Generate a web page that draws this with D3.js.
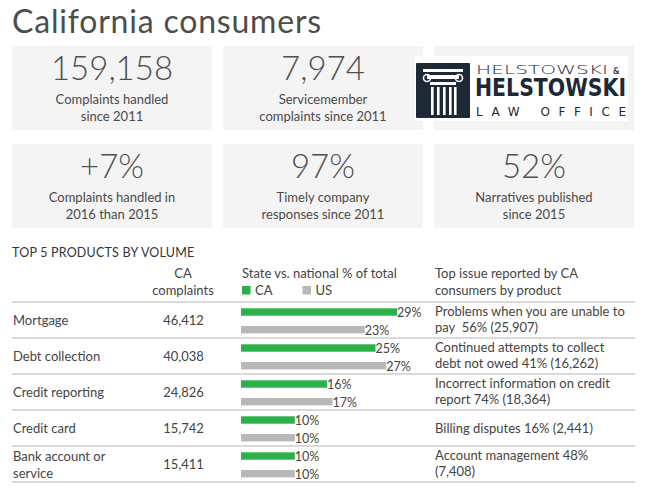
<!DOCTYPE html>
<html><head><meta charset="utf-8">
<script src="https://cdn.jsdelivr.net/npm/d3@7"></script>
<style>
html,body{margin:0;padding:0;background:#fff;}
svg{display:block;font-family:Lato,"Open Sans",sans-serif;}
</style></head>
<body>
<script>
const title = "California consumers";
const statValues = ["159,158", "7,974", null, "+7%", "97%", "52%"];
const statLabels = [
  ["Complaints handled", "since 2011"],
  ["Servicemember", "complaints since 2011"],
  null,
  ["Complaints handled in", "2016 than 2015"],
  ["Timely company", "responses since 2011"],
  ["Narratives published", "since 2015"]
];
const sectionTitle = "TOP 5 PRODUCTS BY VOLUME";
const products = [["Mortgage"], ["Debt collection"], ["Credit reporting"], ["Credit card"], ["Bank account or", "service"]];
const caComplaints = ["46,412", "40,038", "24,826", "15,742", "15,411"];
const caShare = [29, 25, 16, 10, 10];
const usShare = [23, 27, 17, 10, 10];
const topIssues = [
  ["Problems when you are unable to", "pay  56% (25,907)"],
  ["Continued attempts to collect", "debt not owed 41% (16,262)"],
  ["Incorrect information on credit", "report 74% (18,364)"],
  ["Billing disputes 16% (2,441)"],
  ["Account management 48%", "(7,408)"]
];
const seriesNames = ["CA", "US"];
const colors = {CA: "#2cb04a", US: "#b8b8b8"};

const W = 649, H = 497;
const svg = d3.select("body").append("svg").attr("width", W).attr("height", H);

svg.append("text").attr("x", 12).attr("y", 33).attr("font-size", 32)
  .attr("letter-spacing", 0.8)
  .attr("fill", "#4d4d4d").attr("font-weight", 400).text(title);

// stat boxes
const boxX = d3.scaleBand().domain([0,1,2]).range([12, 634]).paddingInner(0.052).paddingOuter(0);
const boxY = [46, 144];
statValues.forEach((v, i) => {
  const col = i % 3, row = Math.floor(i / 3);
  const x = boxX(col), y = boxY[row], w = boxX.bandwidth();
  svg.append("rect").attr("x", x).attr("y", y).attr("width", w).attr("height", 84).attr("fill", "#f4f4f4");
  if (v !== null) {
    svg.append("text").attr("x", x + w/2).attr("y", y + 34).attr("text-anchor", "middle")
      .attr("font-size", 33).attr("font-weight", 300).attr("fill", "#505050").text(v);
    statLabels[i].forEach((l, k) => {
      svg.append("text").attr("x", x + w/2).attr("y", y + 58 + k*17).attr("text-anchor", "middle")
        .attr("font-size", 13).attr("fill", "#4a4a4a").text(l);
    });
  } else {
    // logo
    const g = svg.append("g");
    const dark = "#1d2935";
    g.append("rect").attr("x", 415).attr("y", 56).attr("width", 213).attr("height", 65).attr("fill", "#fff");
    g.append("rect").attr("x", 416).attr("y", 63).attr("width", 54).attr("height", 55).attr("fill", dark).attr("rx", 1);
    // column icon
    g.append("rect").attr("x", 423).attr("y", 69).attr("width", 40).attr("height", 3).attr("fill", "#fff");
    g.append("rect").attr("x", 427).attr("y", 75).attr("width", 32).attr("height", 4).attr("fill", "#fff");
    g.append("circle").attr("cx", 427).attr("cy", 78).attr("r", 3.5).attr("fill", "none").attr("stroke", "#fff").attr("stroke-width", 1.6);
    g.append("circle").attr("cx", 459).attr("cy", 78).attr("r", 3.5).attr("fill", "none").attr("stroke", "#fff").attr("stroke-width", 1.6);
    g.append("rect").attr("x", 430).attr("y", 82).attr("width", 26).attr("height", 3).attr("fill", "#fff");
    const flutes = [431, 437, 443, 449, 454];
    flutes.forEach(fx => {
      g.append("rect").attr("x", fx).attr("y", 87).attr("width", 2.6).attr("height", 28).attr("fill", "#fff");
    });
    g.append("text").attr("x", 476).attr("y", 73.5).attr("font-size", 13).attr("font-weight", 300)
      .attr("fill", dark).attr("textLength", 132).attr("lengthAdjust", "spacingAndGlyphs")
      .attr("font-family", "'DejaVu Sans', sans-serif").text("HELSTOWSKI");
    g.append("text").attr("x", 613).attr("y", 73.5).attr("font-size", 9).attr("font-weight", 700)
      .attr("fill", dark).text("&");
    g.append("text").attr("x", 475).attr("y", 96).attr("font-size", 24).attr("font-weight", 700)
      .attr("fill", dark).attr("textLength", 151).attr("lengthAdjust", "spacingAndGlyphs")
      .attr("font-family", "'DejaVu Sans Condensed','Liberation Sans Narrow',sans-serif").text("HELSTOWSKI");
    g.append("text").attr("x", 476).attr("y", 116).attr("font-size", 12).attr("font-weight", 400)
      .attr("fill", dark).attr("textLength", 150).attr("lengthAdjust", "spacing")
      .attr("font-family", "'DejaVu Sans', sans-serif").text("LAW OFFICE");
  }
});

// table
const txt = "#444";
svg.append("text").attr("x", 12).attr("y", 257).attr("font-size", 12.5).attr("letter-spacing", 0.2).attr("fill", "#333").text(sectionTitle);

svg.append("text").attr("x", 183).attr("y", 278).attr("text-anchor", "middle").attr("font-size", 13).attr("fill", txt).text("CA");
svg.append("text").attr("x", 183).attr("y", 295).attr("text-anchor", "middle").attr("font-size", 13).attr("fill", txt).text("complaints");
svg.append("text").attr("x", 242).attr("y", 278).attr("font-size", 13).attr("fill", txt).text("State vs. national % of total");
const legX = d3.scaleOrdinal().domain(seriesNames).range([242, 302.5]);
seriesNames.forEach(s => {
  svg.append("rect").attr("x", legX(s)).attr("y", 286).attr("width", 8.5).attr("height", 8.5).attr("fill", colors[s]);
  svg.append("text").attr("x", legX(s) + 13).attr("y", 295).attr("font-size", 13).attr("fill", txt).text(s);
});
svg.append("text").attr("x", 435).attr("y", 278).attr("font-size", 13).attr("fill", txt).text("Top issue reported by CA");
svg.append("text").attr("x", 435).attr("y", 295).attr("font-size", 13).attr("fill", txt).text("consumers by product");

const rowY = d3.scaleBand().domain(d3.range(products.length)).range([302, 482]).padding(0);
const xBar = d3.scaleLinear().domain([0, 100]).range([241, 241 + 538]);

svg.append("line").attr("x1", 12).attr("x2", 635).attr("y1", 302).attr("y2", 302).attr("stroke", "#b5b5b5").attr("stroke-width", 1);

products.forEach((p, i) => {
  const y0 = rowY(i);
  svg.append("line").attr("x1", 12).attr("x2", 635).attr("y1", y0 + 36).attr("y2", y0 + 36)
    .attr("stroke", "#b5b5b5").attr("stroke-width", 1);
  if (p.length === 1) {
    svg.append("text").attr("x", 13).attr("y", y0 + 23).attr("font-size", 13).attr("fill", txt).text(p[0]);
  } else {
    p.forEach((l, k) => svg.append("text").attr("x", 13).attr("y", y0 + 15 + k*17).attr("font-size", 13).attr("fill", txt).text(l));
  }
  svg.append("text").attr("x", 183.5).attr("y", y0 + 23).attr("text-anchor", "middle").attr("font-size", 13).attr("fill", txt).text(caComplaints[i]);
  // bars
  [[caShare[i], "CA", 6.3], [usShare[i], "US", 24]].forEach(([v, s, off]) => {
    svg.append("rect").attr("x", xBar(0)).attr("y", y0 + off).attr("width", xBar(v) - xBar(0)).attr("height", 7.4).attr("fill", colors[s]);
    svg.append("text").attr("x", xBar(v)).attr("y", y0 + off + 8.5).attr("font-size", 12.5).attr("fill", "#444").text(v + "%");
  });
  const ti = topIssues[i];
  if (ti.length === 1) {
    svg.append("text").attr("x", 435).attr("y", y0 + 23).attr("font-size", 13).attr("fill", txt).text(ti[0]);
  } else {
    ti.forEach((l, k) => svg.append("text").attr("x", 435).attr("y", y0 + 13.5 + k*16.5).attr("font-size", 13).attr("fill", txt).style("white-space", "pre").text(l));
  }
});
</script>
</body></html>
